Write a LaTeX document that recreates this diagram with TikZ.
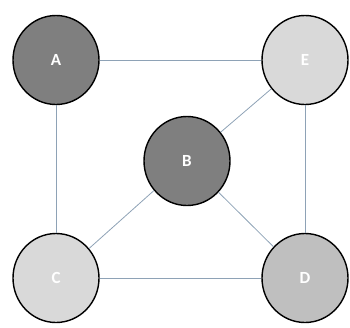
\documentclass[tikz,border=0pt]{standalone}
\usepackage{fontspec}
\setmainfont{Carlito}
\usetikzlibrary{shapes.geometric}
\definecolor{darkfill}{HTML}{7F7F7F}
\definecolor{lightfill}{HTML}{D9D9D9}
\definecolor{midfill}{HTML}{BFBFBF}
\definecolor{edgecol}{HTML}{8EA2B6}
\tikzset{
  vtx/.style={ellipse, draw=black, line width=1.4pt, minimum width=86pt, minimum height=89pt,
    inner sep=0pt, text=white, font=\fontsize{17}{19}\selectfont\bfseries},
  link/.style={draw=edgecol, line width=0.8pt}
}
\begin{document}
\begin{tikzpicture}[x=1pt,y=-1pt]
\useasboundingbox (0,0) rectangle (350,327);
\node[vtx, fill=darkfill] (A) at (56,60) {A};
\node[vtx, fill=lightfill] (E) at (305,60) {E};
\node[vtx, fill=darkfill] (B) at (187,161) {B};
\node[vtx, fill=lightfill] (C) at (56,278) {C};
\node[vtx, fill=midfill] (D) at (305,278) {D};
\path[link] (A) -- (E);
\path[link] (A) -- (C);
\path[link] (E) -- (D);
\path[link] (C) -- (D);
\path[link] (B) -- (E);
\path[link] (B) -- (C);
\path[link] (B) -- (D);
\end{tikzpicture}
\end{document}
